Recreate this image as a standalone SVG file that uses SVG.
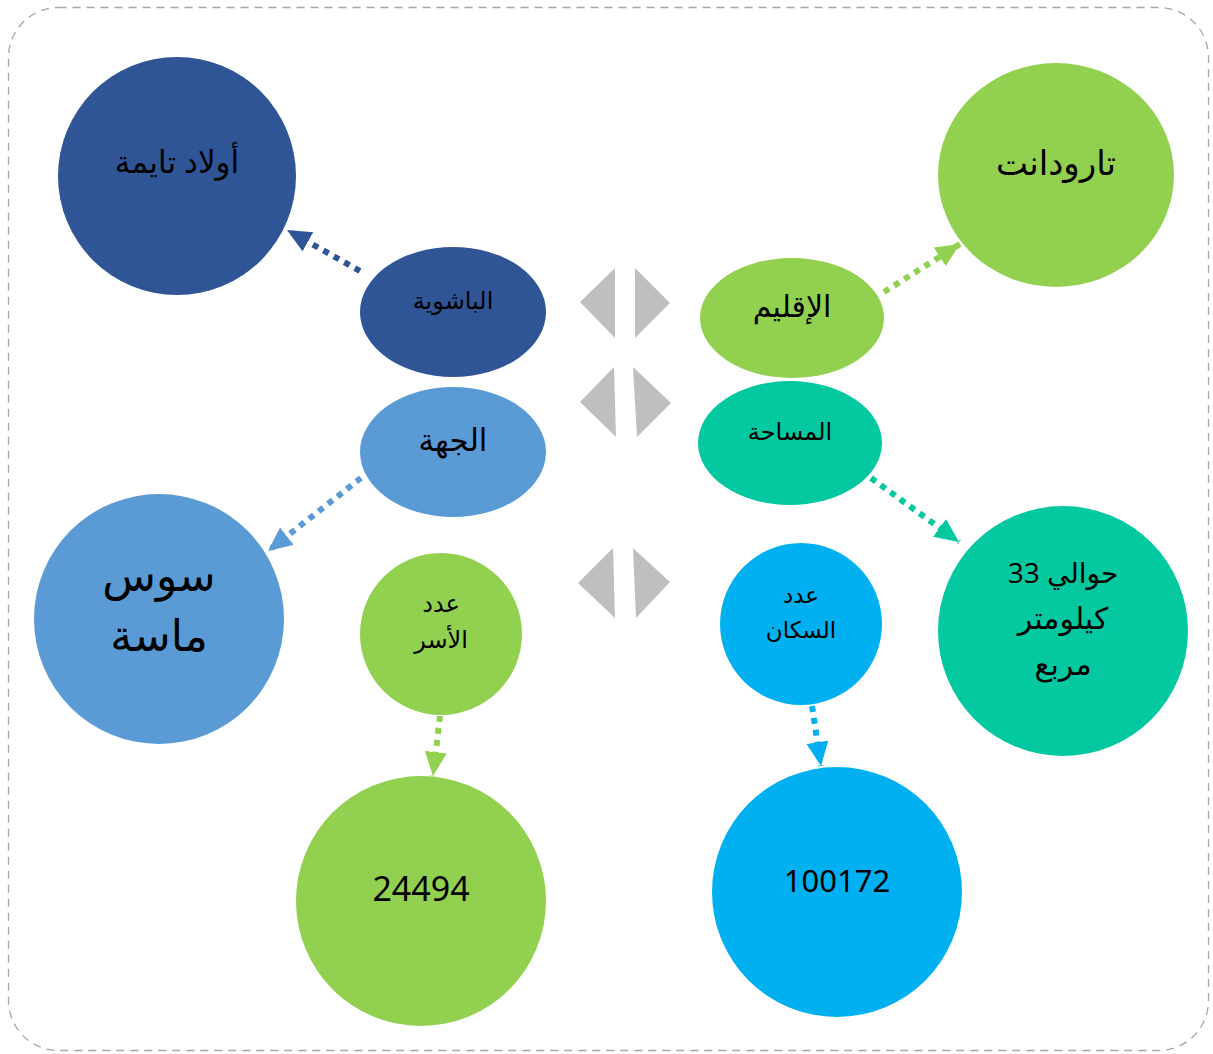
<svg xmlns="http://www.w3.org/2000/svg" width="1213" height="1054" viewBox="0 0 1213 1054">
<style>
  text { font-family: "Noto Sans", "DejaVu Sans", sans-serif; text-anchor: middle; fill: #000; }
  .tri { fill: #BFBFBF; }
  .con { fill: none; stroke-width: 6; stroke-dasharray: 6 6; }
</style>
<defs>
  <marker id="ahDB" markerUnits="userSpaceOnUse" markerWidth="26" markerHeight="24" refX="24" refY="11" orient="auto"><path d="M0,0 L24,11 L0,22 z" fill="#2F5597"/></marker>
  <marker id="ahG" markerUnits="userSpaceOnUse" markerWidth="26" markerHeight="24" refX="24" refY="11" orient="auto"><path d="M0,0 L24,11 L0,22 z" fill="#92D050"/></marker>
  <marker id="ahLB" markerUnits="userSpaceOnUse" markerWidth="26" markerHeight="24" refX="24" refY="11" orient="auto"><path d="M0,0 L24,11 L0,22 z" fill="#5B9BD5"/></marker>
  <marker id="ahT" markerUnits="userSpaceOnUse" markerWidth="26" markerHeight="24" refX="24" refY="11" orient="auto"><path d="M0,0 L24,11 L0,22 z" fill="#03C8A0"/></marker>
  <marker id="ahC" markerUnits="userSpaceOnUse" markerWidth="26" markerHeight="24" refX="24" refY="11" orient="auto"><path d="M0,0 L24,11 L0,22 z" fill="#00B0F0"/></marker>
</defs>
<rect x="8.5" y="7.5" width="1200" height="1043" rx="50" fill="#fff" stroke="#A6A6A6" stroke-width="1.3" stroke-dasharray="8 6"/>

<g id="triangles">
  <polygon class="tri" points="580,302 615,268 615,338"/>
  <polygon class="tri" points="635,268 670,303 635,338"/>
  <polygon class="tri" points="580,402 614,367 616,437"/>
  <polygon class="tri" points="633,367 671,403 637,437"/>
  <polygon class="tri" points="578,583 613,548 615,618"/>
  <polygon class="tri" points="633,548 670,582 636,618"/>
</g>

<g id="connectors">
  <path class="con" stroke="#2F5597" d="M360,271 L287,230" marker-end="url(#ahDB)"/>
  <path class="con" stroke="#92D050" d="M884,292 L960,244" marker-end="url(#ahG)"/>
  <path class="con" stroke="#5B9BD5" d="M361,478 L268,551" marker-end="url(#ahLB)"/>
  <path class="con" stroke="#03C8A0" d="M871,478 L959,542" marker-end="url(#ahT)"/>
  <path class="con" stroke="#92D050" d="M440,716 L433,776" marker-end="url(#ahG)"/>
  <path class="con" stroke="#00B0F0" d="M812,706 L821,766" marker-end="url(#ahC)"/>
</g>

<g id="n-awlad">
  <circle cx="177" cy="176" r="119" fill="#2F5597"/>
  <text x="177" y="173" font-size="31">أولاد تايمة</text>
</g>
<g id="n-taroudant">
  <ellipse cx="1056" cy="175" rx="118" ry="112" fill="#92D050"/>
  <text x="1056" y="175" font-size="34">تارودانت</text>
</g>
<g id="n-pachalik">
  <ellipse cx="453" cy="312" rx="93" ry="65" fill="#2F5597"/>
  <text x="453" y="309" font-size="24">الباشوية</text>
</g>
<g id="n-province">
  <ellipse cx="792" cy="318" rx="92" ry="60" fill="#92D050"/>
  <text x="792" y="317" font-size="30">الإقليم</text>
</g>
<g id="n-region">
  <ellipse cx="453" cy="452" rx="93" ry="65" fill="#5B9BD5"/>
  <text x="453" y="451" font-size="31">الجهة</text>
</g>
<g id="n-area">
  <ellipse cx="790" cy="443" rx="92" ry="62" fill="#03C8A0"/>
  <text x="790" y="440" font-size="24">المساحة</text>
</g>
<g id="n-soussmassa">
  <circle cx="159" cy="619" r="125" fill="#5B9BD5"/>
  <text x="159" y="591" font-size="44">سوس</text>
  <text x="159" y="651" font-size="44">ماسة</text>
</g>
<g id="n-area-val">
  <circle cx="1063" cy="631" r="125" fill="#03C8A0"/>
  <text x="1063" y="583" font-size="28">حوالي 33</text>
  <text x="1063" y="629" font-size="30">كيلومتر</text>
  <text x="1063" y="675" font-size="30">مربع</text>
</g>
<g id="n-households">
  <circle cx="441" cy="634" r="81" fill="#92D050"/>
  <text x="441" y="612" font-size="24">عدد</text>
  <text x="441" y="648" font-size="24">الأسر</text>
</g>
<g id="n-population">
  <circle cx="801" cy="624" r="81" fill="#00B0F0"/>
  <text x="801" y="603" font-size="23">عدد</text>
  <text x="801" y="638" font-size="23">السكان</text>
</g>
<g id="n-households-val">
  <circle cx="421" cy="901" r="125" fill="#92D050"/>
  <text x="421" y="901" font-size="34">24494</text>
</g>
<g id="n-population-val">
  <circle cx="837" cy="892" r="125" fill="#00B0F0"/>
  <text x="837" y="892" font-size="31">100172</text>
</g>
</svg>
